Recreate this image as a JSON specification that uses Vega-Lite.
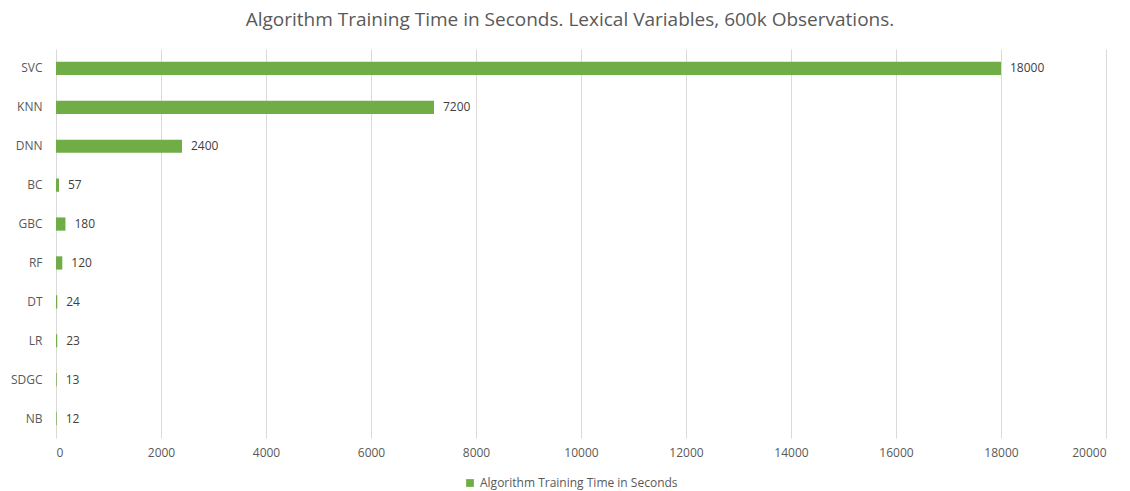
{
  "$schema": "https://vega.github.io/schema/vega-lite/v6.json",
  "autosize": {"type": "none"},
  "padding": {"left": 56, "top": 49, "right": 24, "bottom": 53},
  "width": 1050,
  "height": 389,
  "background": "white",
  "title": {
    "text": "Algorithm Training Time in Seconds. Lexical Variables, 600k Observations.",
    "font": "Open Sans",
    "fontSize": 19,
    "fontWeight": "normal",
    "color": "#595959",
    "anchor": "middle",
    "offset": 19,
    "dx": -11
  },
  "config": {
    "view": {"stroke": null},
    "font": "Open Sans"
  },
  "data": {
    "values": [
      {"algorithm": "SVC", "seconds": 18000},
      {"algorithm": "KNN", "seconds": 7200},
      {"algorithm": "DNN", "seconds": 2400},
      {"algorithm": "BC", "seconds": 57},
      {"algorithm": "GBC", "seconds": 180},
      {"algorithm": "RF", "seconds": 120},
      {"algorithm": "DT", "seconds": 24},
      {"algorithm": "LR", "seconds": 23},
      {"algorithm": "SDGC", "seconds": 13},
      {"algorithm": "NB", "seconds": 12}
    ]
  },
  "encoding": {
    "y": {
      "field": "algorithm",
      "type": "nominal",
      "sort": null,
      "title": null,
      "scale": {"paddingInner": 0.66, "paddingOuter": 0.33},
      "axis": {
        "domain": false,
        "ticks": false,
        "labelFontSize": 12,
        "labelColor": "#595959",
        "labelPadding": 14
      }
    },
    "x": {
      "field": "seconds",
      "type": "quantitative",
      "title": null,
      "scale": {"domain": [0, 20000], "nice": false},
      "axis": {
        "values": [0, 2000, 4000, 6000, 8000, 10000, 12000, 14000, 16000, 18000, 20000],
        "format": "d",
        "domain": false,
        "ticks": false,
        "grid": true,
        "gridColor": "#d9d9d9",
        "gridWidth": 1,
        "labelFontSize": 12,
        "labelColor": "#595959",
        "labelPadding": 9
      }
    }
  },
  "layer": [
    {
      "mark": {"type": "bar"},
      "encoding": {
        "color": {
          "datum": "Algorithm Training Time in Seconds",
          "scale": {"range": ["#70AD47"]},
          "legend": {
            "title": null,
            "orient": "none",
            "legendX": 408,
            "legendY": 428,
            "symbolType": "square",
            "symbolSize": 60,
            "labelFontSize": 12,
            "labelColor": "#595959",
            "labelOffset": 4,
            "labelLimit": 0
          }
        }
      }
    },
    {
      "mark": {"type": "text", "align": "left", "dx": 9, "fontSize": 12, "color": "#404040"},
      "encoding": {
        "text": {"field": "seconds", "type": "quantitative", "format": "d"}
      }
    }
  ]
}
